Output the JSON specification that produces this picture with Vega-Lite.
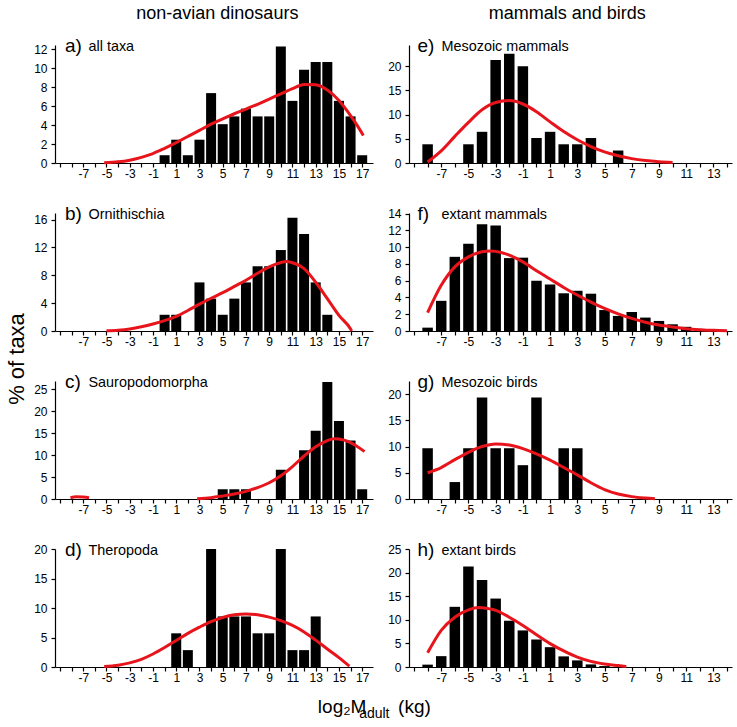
{
  "$schema": "https://vega.github.io/schema/vega-lite/v6.json",
  "padding": {"left": 5, "top": 5, "right": 4, "bottom": 5},
  "background": "white",
  "config": {
    "view": {"stroke": null},
    "font": "Liberation Sans",
    "axis": {"grid": false, "domainColor": "black", "domainWidth": 1.2, "tickColor": "black", "tickWidth": 1.2, "tickSize": 4, "labelColor": "black", "labelFontSize": 12, "labelFont": "Liberation Sans"},
    "axisX": {"labelPadding": 1, "labelAngle": 0},
    "axisY": {"labelPadding": 4, "titleAngle": 0, "titleAlign": "left", "titleBaseline": "middle", "titleX": 33, "titleY": 1, "titleFontSize": 14.4, "titleFontWeight": "normal", "titleColor": "black", "titleFont": "Liberation Sans"}
  },
  "datasets": {
    "bars": [
      {"p": "a", "x": 0, "y": 0.82}, {"p": "a", "x": 1, "y": 2.46}, {"p": "a", "x": 2, "y": 0.82}, {"p": "a", "x": 3, "y": 2.46}, {"p": "a", "x": 4, "y": 7.38}, {"p": "a", "x": 5, "y": 4.1}, {"p": "a", "x": 6, "y": 4.92}, {"p": "a", "x": 7, "y": 5.74}, {"p": "a", "x": 8, "y": 4.92}, {"p": "a", "x": 9, "y": 4.92}, {"p": "a", "x": 10, "y": 12.3}, {"p": "a", "x": 11, "y": 6.56}, {"p": "a", "x": 12, "y": 9.84}, {"p": "a", "x": 13, "y": 10.66}, {"p": "a", "x": 14, "y": 10.66}, {"p": "a", "x": 15, "y": 6.56}, {"p": "a", "x": 16, "y": 4.92}, {"p": "a", "x": 17, "y": 0.82},
      {"p": "b", "x": 0, "y": 2.33}, {"p": "b", "x": 1, "y": 2.33}, {"p": "b", "x": 3, "y": 6.98}, {"p": "b", "x": 4, "y": 4.65}, {"p": "b", "x": 5, "y": 2.33}, {"p": "b", "x": 6, "y": 4.65}, {"p": "b", "x": 7, "y": 6.98}, {"p": "b", "x": 8, "y": 9.3}, {"p": "b", "x": 9, "y": 9.3}, {"p": "b", "x": 10, "y": 11.63}, {"p": "b", "x": 11, "y": 16.28}, {"p": "b", "x": 12, "y": 13.95}, {"p": "b", "x": 13, "y": 6.98}, {"p": "b", "x": 14, "y": 2.33},
      {"p": "c", "x": 5, "y": 2.22}, {"p": "c", "x": 6, "y": 2.22}, {"p": "c", "x": 7, "y": 2.22}, {"p": "c", "x": 10, "y": 6.67}, {"p": "c", "x": 12, "y": 11.11}, {"p": "c", "x": 13, "y": 15.56}, {"p": "c", "x": 14, "y": 26.67}, {"p": "c", "x": 15, "y": 17.78}, {"p": "c", "x": 16, "y": 13.33}, {"p": "c", "x": 17, "y": 2.22},
      {"p": "d", "x": 1, "y": 5.71}, {"p": "d", "x": 2, "y": 2.86}, {"p": "d", "x": 4, "y": 20}, {"p": "d", "x": 5, "y": 8.57}, {"p": "d", "x": 6, "y": 8.57}, {"p": "d", "x": 7, "y": 8.57}, {"p": "d", "x": 8, "y": 5.71}, {"p": "d", "x": 9, "y": 5.71}, {"p": "d", "x": 10, "y": 20}, {"p": "d", "x": 11, "y": 2.86}, {"p": "d", "x": 12, "y": 2.86}, {"p": "d", "x": 13, "y": 8.57},
      {"p": "e", "x": -8, "y": 3.87}, {"p": "e", "x": -5, "y": 3.87}, {"p": "e", "x": -4, "y": 6.45}, {"p": "e", "x": -3, "y": 21.29}, {"p": "e", "x": -2, "y": 22.58}, {"p": "e", "x": -1, "y": 20.0}, {"p": "e", "x": 0, "y": 5.16}, {"p": "e", "x": 1, "y": 6.45}, {"p": "e", "x": 2, "y": 3.87}, {"p": "e", "x": 3, "y": 3.87}, {"p": "e", "x": 4, "y": 5.16}, {"p": "e", "x": 6, "y": 2.58},
      {"p": "f", "x": -8, "y": 0.4}, {"p": "f", "x": -7, "y": 3.6}, {"p": "f", "x": -6, "y": 8.85}, {"p": "f", "x": -5, "y": 10.4}, {"p": "f", "x": -4, "y": 12.75}, {"p": "f", "x": -3, "y": 12.6}, {"p": "f", "x": -2, "y": 8.7}, {"p": "f", "x": -1, "y": 8.75}, {"p": "f", "x": 0, "y": 6.0}, {"p": "f", "x": 1, "y": 5.55}, {"p": "f", "x": 2, "y": 4.5}, {"p": "f", "x": 3, "y": 4.8}, {"p": "f", "x": 4, "y": 4.45}, {"p": "f", "x": 5, "y": 2.5}, {"p": "f", "x": 6, "y": 1.8}, {"p": "f", "x": 7, "y": 2.27}, {"p": "f", "x": 8, "y": 1.6}, {"p": "f", "x": 9, "y": 1.2}, {"p": "f", "x": 10, "y": 0.8}, {"p": "f", "x": 11, "y": 0.5}, {"p": "f", "x": 12, "y": 0.25}, {"p": "f", "x": 13, "y": 0.1},
      {"p": "g", "x": -8, "y": 9.68}, {"p": "g", "x": -6, "y": 3.23}, {"p": "g", "x": -5, "y": 9.68}, {"p": "g", "x": -4, "y": 19.35}, {"p": "g", "x": -3, "y": 9.68}, {"p": "g", "x": -2, "y": 9.68}, {"p": "g", "x": -1, "y": 6.45}, {"p": "g", "x": 0, "y": 19.35}, {"p": "g", "x": 2, "y": 9.68}, {"p": "g", "x": 3, "y": 9.68},
      {"p": "h", "x": -8, "y": 0.5}, {"p": "h", "x": -7, "y": 2.3}, {"p": "h", "x": -6, "y": 12.75}, {"p": "h", "x": -5, "y": 21.3}, {"p": "h", "x": -4, "y": 18.45}, {"p": "h", "x": -3, "y": 14.5}, {"p": "h", "x": -2, "y": 9.8}, {"p": "h", "x": -1, "y": 7.75}, {"p": "h", "x": 0, "y": 5.85}, {"p": "h", "x": 1, "y": 4.2}, {"p": "h", "x": 2, "y": 2.25}, {"p": "h", "x": 3, "y": 1.4}, {"p": "h", "x": 4, "y": 0.55}, {"p": "h", "x": 5, "y": 0.2}
    ],
    "curves": [
      {"p": "a", "s": 1, "x": -5.2, "y": 0.02}, {"p": "a", "s": 1, "x": -4, "y": 0.12}, {"p": "a", "s": 1, "x": -3, "y": 0.3}, {"p": "a", "s": 1, "x": -2, "y": 0.6}, {"p": "a", "s": 1, "x": -1, "y": 1.0}, {"p": "a", "s": 1, "x": 0, "y": 1.55}, {"p": "a", "s": 1, "x": 1, "y": 2.15}, {"p": "a", "s": 1, "x": 2, "y": 2.8}, {"p": "a", "s": 1, "x": 3, "y": 3.45}, {"p": "a", "s": 1, "x": 4, "y": 4.1}, {"p": "a", "s": 1, "x": 5, "y": 4.65}, {"p": "a", "s": 1, "x": 6, "y": 5.2}, {"p": "a", "s": 1, "x": 7, "y": 5.7}, {"p": "a", "s": 1, "x": 8, "y": 6.2}, {"p": "a", "s": 1, "x": 9, "y": 6.75}, {"p": "a", "s": 1, "x": 10, "y": 7.3}, {"p": "a", "s": 1, "x": 11, "y": 7.85}, {"p": "a", "s": 1, "x": 12, "y": 8.3}, {"p": "a", "s": 1, "x": 13, "y": 8.25}, {"p": "a", "s": 1, "x": 14, "y": 7.7}, {"p": "a", "s": 1, "x": 15, "y": 6.6}, {"p": "a", "s": 1, "x": 16, "y": 5.0}, {"p": "a", "s": 1, "x": 16.5, "y": 4.1}, {"p": "a", "s": 1, "x": 17.1, "y": 2.9},
      {"p": "b", "s": 1, "x": -5, "y": 0.02}, {"p": "b", "s": 1, "x": -4, "y": 0.12}, {"p": "b", "s": 1, "x": -3, "y": 0.3}, {"p": "b", "s": 1, "x": -2, "y": 0.6}, {"p": "b", "s": 1, "x": -1, "y": 1.0}, {"p": "b", "s": 1, "x": 0, "y": 1.5}, {"p": "b", "s": 1, "x": 1, "y": 2.1}, {"p": "b", "s": 1, "x": 2, "y": 2.95}, {"p": "b", "s": 1, "x": 3, "y": 3.85}, {"p": "b", "s": 1, "x": 4, "y": 4.7}, {"p": "b", "s": 1, "x": 5, "y": 5.5}, {"p": "b", "s": 1, "x": 6, "y": 6.4}, {"p": "b", "s": 1, "x": 7, "y": 7.3}, {"p": "b", "s": 1, "x": 8, "y": 8.3}, {"p": "b", "s": 1, "x": 9, "y": 9.2}, {"p": "b", "s": 1, "x": 10, "y": 9.85}, {"p": "b", "s": 1, "x": 10.5, "y": 10.0}, {"p": "b", "s": 1, "x": 11, "y": 9.8}, {"p": "b", "s": 1, "x": 12, "y": 8.95}, {"p": "b", "s": 1, "x": 13, "y": 7.0}, {"p": "b", "s": 1, "x": 14, "y": 4.65}, {"p": "b", "s": 1, "x": 15, "y": 2.25}, {"p": "b", "s": 1, "x": 16, "y": 0.3}, {"p": "b", "s": 1, "x": 16.1, "y": 0},
      {"p": "c", "s": 1, "x": -8.1, "y": 0.3}, {"p": "c", "s": 1, "x": -7.6, "y": 0.5}, {"p": "c", "s": 1, "x": -7, "y": 0.45}, {"p": "c", "s": 1, "x": -6.5, "y": 0.3},
      {"p": "c", "s": 2, "x": 2.8, "y": 0.05}, {"p": "c", "s": 2, "x": 4, "y": 0.3}, {"p": "c", "s": 2, "x": 5, "y": 0.7}, {"p": "c", "s": 2, "x": 6, "y": 1.15}, {"p": "c", "s": 2, "x": 7, "y": 1.75}, {"p": "c", "s": 2, "x": 8, "y": 2.6}, {"p": "c", "s": 2, "x": 9, "y": 3.7}, {"p": "c", "s": 2, "x": 10, "y": 5.3}, {"p": "c", "s": 2, "x": 11, "y": 7.4}, {"p": "c", "s": 2, "x": 12, "y": 9.8}, {"p": "c", "s": 2, "x": 13, "y": 11.9}, {"p": "c", "s": 2, "x": 14, "y": 13.3}, {"p": "c", "s": 2, "x": 14.6, "y": 13.75}, {"p": "c", "s": 2, "x": 15, "y": 13.7}, {"p": "c", "s": 2, "x": 16, "y": 12.85}, {"p": "c", "s": 2, "x": 17, "y": 11.2}, {"p": "c", "s": 2, "x": 17.2, "y": 10.8},
      {"p": "d", "s": 1, "x": -5.2, "y": 0.08}, {"p": "d", "s": 1, "x": -4, "y": 0.3}, {"p": "d", "s": 1, "x": -3, "y": 0.7}, {"p": "d", "s": 1, "x": -2, "y": 1.3}, {"p": "d", "s": 1, "x": -1, "y": 2.2}, {"p": "d", "s": 1, "x": 0, "y": 3.3}, {"p": "d", "s": 1, "x": 1, "y": 4.5}, {"p": "d", "s": 1, "x": 2, "y": 5.7}, {"p": "d", "s": 1, "x": 3, "y": 6.75}, {"p": "d", "s": 1, "x": 4, "y": 7.7}, {"p": "d", "s": 1, "x": 5, "y": 8.4}, {"p": "d", "s": 1, "x": 6, "y": 8.85}, {"p": "d", "s": 1, "x": 7, "y": 9.0}, {"p": "d", "s": 1, "x": 8, "y": 8.85}, {"p": "d", "s": 1, "x": 9, "y": 8.45}, {"p": "d", "s": 1, "x": 10, "y": 7.85}, {"p": "d", "s": 1, "x": 11, "y": 7.05}, {"p": "d", "s": 1, "x": 12, "y": 5.95}, {"p": "d", "s": 1, "x": 13, "y": 4.55}, {"p": "d", "s": 1, "x": 14, "y": 3.05}, {"p": "d", "s": 1, "x": 15, "y": 1.6}, {"p": "d", "s": 1, "x": 15.9, "y": 0.15},
      {"p": "e", "s": 1, "x": -8, "y": 0.2}, {"p": "e", "s": 1, "x": -7, "y": 2.5}, {"p": "e", "s": 1, "x": -6, "y": 5.5}, {"p": "e", "s": 1, "x": -5, "y": 8.4}, {"p": "e", "s": 1, "x": -4, "y": 11.0}, {"p": "e", "s": 1, "x": -3, "y": 12.5}, {"p": "e", "s": 1, "x": -2, "y": 12.9}, {"p": "e", "s": 1, "x": -1, "y": 12.2}, {"p": "e", "s": 1, "x": 0, "y": 10.6}, {"p": "e", "s": 1, "x": 1, "y": 8.5}, {"p": "e", "s": 1, "x": 2, "y": 6.5}, {"p": "e", "s": 1, "x": 3, "y": 4.8}, {"p": "e", "s": 1, "x": 4, "y": 3.4}, {"p": "e", "s": 1, "x": 5, "y": 2.3}, {"p": "e", "s": 1, "x": 6, "y": 1.5}, {"p": "e", "s": 1, "x": 7, "y": 0.9}, {"p": "e", "s": 1, "x": 8, "y": 0.5}, {"p": "e", "s": 1, "x": 9, "y": 0.25}, {"p": "e", "s": 1, "x": 10, "y": 0.1},
      {"p": "f", "s": 1, "x": -8, "y": 2.2}, {"p": "f", "s": 1, "x": -7, "y": 5.45}, {"p": "f", "s": 1, "x": -6, "y": 7.65}, {"p": "f", "s": 1, "x": -5, "y": 8.85}, {"p": "f", "s": 1, "x": -4, "y": 9.45}, {"p": "f", "s": 1, "x": -3.4, "y": 9.55}, {"p": "f", "s": 1, "x": -3, "y": 9.5}, {"p": "f", "s": 1, "x": -2, "y": 9.05}, {"p": "f", "s": 1, "x": -1, "y": 8.25}, {"p": "f", "s": 1, "x": 0, "y": 7.2}, {"p": "f", "s": 1, "x": 1, "y": 6.2}, {"p": "f", "s": 1, "x": 2, "y": 5.2}, {"p": "f", "s": 1, "x": 3, "y": 4.3}, {"p": "f", "s": 1, "x": 4, "y": 3.45}, {"p": "f", "s": 1, "x": 5, "y": 2.7}, {"p": "f", "s": 1, "x": 6, "y": 2.05}, {"p": "f", "s": 1, "x": 7, "y": 1.5}, {"p": "f", "s": 1, "x": 8, "y": 1.05}, {"p": "f", "s": 1, "x": 9, "y": 0.72}, {"p": "f", "s": 1, "x": 10, "y": 0.48}, {"p": "f", "s": 1, "x": 11, "y": 0.28}, {"p": "f", "s": 1, "x": 12, "y": 0.16}, {"p": "f", "s": 1, "x": 13, "y": 0.08}, {"p": "f", "s": 1, "x": 14, "y": 0.04},
      {"p": "g", "s": 1, "x": -8, "y": 5.0}, {"p": "g", "s": 1, "x": -7, "y": 6.0}, {"p": "g", "s": 1, "x": -6, "y": 7.5}, {"p": "g", "s": 1, "x": -5, "y": 8.9}, {"p": "g", "s": 1, "x": -4, "y": 10.0}, {"p": "g", "s": 1, "x": -3, "y": 10.5}, {"p": "g", "s": 1, "x": -2, "y": 10.3}, {"p": "g", "s": 1, "x": -1, "y": 9.6}, {"p": "g", "s": 1, "x": 0, "y": 8.6}, {"p": "g", "s": 1, "x": 1, "y": 7.4}, {"p": "g", "s": 1, "x": 2, "y": 6.0}, {"p": "g", "s": 1, "x": 3, "y": 4.6}, {"p": "g", "s": 1, "x": 4, "y": 3.1}, {"p": "g", "s": 1, "x": 5, "y": 1.8}, {"p": "g", "s": 1, "x": 6, "y": 0.95}, {"p": "g", "s": 1, "x": 7, "y": 0.45}, {"p": "g", "s": 1, "x": 8, "y": 0.18}, {"p": "g", "s": 1, "x": 8.7, "y": 0.05},
      {"p": "h", "s": 1, "x": -8, "y": 3.0}, {"p": "h", "s": 1, "x": -7, "y": 7.75}, {"p": "h", "s": 1, "x": -6, "y": 10.55}, {"p": "h", "s": 1, "x": -5, "y": 12.1}, {"p": "h", "s": 1, "x": -4.2, "y": 12.6}, {"p": "h", "s": 1, "x": -4, "y": 12.55}, {"p": "h", "s": 1, "x": -3, "y": 12.0}, {"p": "h", "s": 1, "x": -2, "y": 10.55}, {"p": "h", "s": 1, "x": -1, "y": 8.8}, {"p": "h", "s": 1, "x": 0, "y": 6.85}, {"p": "h", "s": 1, "x": 1, "y": 4.95}, {"p": "h", "s": 1, "x": 2, "y": 3.4}, {"p": "h", "s": 1, "x": 3, "y": 2.1}, {"p": "h", "s": 1, "x": 4, "y": 1.2}, {"p": "h", "s": 1, "x": 5, "y": 0.65}, {"p": "h", "s": 1, "x": 6, "y": 0.3}, {"p": "h", "s": 1, "x": 6.6, "y": 0.1}
    ]
  },
  "title": {"text": "log₂M\u00a0\u00a0\u00a0\u00a0\u00a0\u00a0(kg)\u00a0\u00a0\u00a0", "subtitle": "adult", "orient": "bottom", "anchor": "middle", "dx": 5, "fontSize": 19, "fontWeight": "normal", "font": "Liberation Sans", "color": "black", "subtitleFontSize": 14, "subtitleFont": "Liberation Sans", "subtitleColor": "black", "subtitlePadding": -10, "offset": 15},
  "vconcat": [
    {
      "title": {"text": "% of taxa", "orient": "left", "anchor": "middle", "fontSize": 22, "fontWeight": "normal", "font": "Liberation Sans", "color": "black", "offset": 5, "dx": -15},
      "spacing": 14,
      "hconcat": [
        {
          "title": {"text": "non-avian dinosaurs", "fontSize": 18, "fontWeight": "normal", "font": "Liberation Sans", "color": "black", "anchor": "middle", "offset": 14, "dx": 14},
          "spacing": 50,
          "bounds": "flush",
          "vconcat": [
            {
              "width": 318, "height": 118,
              "title": {"text": "a)", "anchor": "start", "frame": "group", "dx": 10, "offset": -18, "fontSize": 19, "fontWeight": "normal", "font": "Liberation Sans", "color": "black"},
              "encoding": {
                "x": {"field": "x", "type": "quantitative", "scale": {"domain": [-9, 17.5], "nice": false, "zero": false}, "axis": {"title": null, "values": [-9,-8,-7,-6,-5,-4,-3,-2,-1,0,1,2,3,4,5,6,7,8,9,10,11,12,13,14,15,16,17], "labelExpr": "datum.value % 2 !== 0 && datum.value >= -7 ? '' + datum.value : ''"}},
                "y": {"field": "y", "type": "quantitative", "scale": {"domain": [0, 12.46], "nice": false}, "axis": {"title": "all taxa", "values": [0, 2, 4, 6, 8, 10, 12]}}
              },
              "layer": [
                {"data": {"name": "bars"}, "transform": [{"filter": "datum.p === 'a'"}], "mark": {"type": "bar", "orient": "vertical", "size": 10, "color": "black"}},
                {"data": {"name": "curves"}, "transform": [{"filter": "datum.p === 'a'"}], "mark": {"type": "line", "color": "#e8141b", "strokeWidth": 3, "interpolate": "monotone"}, "encoding": {"detail": {"field": "s", "type": "nominal"}}}
              ]
            },
            {
              "width": 318, "height": 118,
              "title": {"text": "b)", "anchor": "start", "frame": "group", "dx": 10, "offset": -18, "fontSize": 19, "fontWeight": "normal", "font": "Liberation Sans", "color": "black"},
              "encoding": {
                "x": {"field": "x", "type": "quantitative", "scale": {"domain": [-9, 17.5], "nice": false, "zero": false}, "axis": {"title": null, "values": [-9,-8,-7,-6,-5,-4,-3,-2,-1,0,1,2,3,4,5,6,7,8,9,10,11,12,13,14,15,16,17], "labelExpr": "datum.value % 2 !== 0 && datum.value >= -7 ? '' + datum.value : ''"}},
                "y": {"field": "y", "type": "quantitative", "scale": {"domain": [0, 16.95], "nice": false}, "axis": {"title": "Ornithischia", "values": [0, 4, 8, 12, 16]}}
              },
              "layer": [
                {"data": {"name": "bars"}, "transform": [{"filter": "datum.p === 'b'"}], "mark": {"type": "bar", "orient": "vertical", "size": 10, "color": "black"}},
                {"data": {"name": "curves"}, "transform": [{"filter": "datum.p === 'b'"}], "mark": {"type": "line", "color": "#e8141b", "strokeWidth": 3, "interpolate": "monotone"}, "encoding": {"detail": {"field": "s", "type": "nominal"}}}
              ]
            },
            {
              "width": 318, "height": 118,
              "title": {"text": "c)", "anchor": "start", "frame": "group", "dx": 10, "offset": -18, "fontSize": 19, "fontWeight": "normal", "font": "Liberation Sans", "color": "black"},
              "encoding": {
                "x": {"field": "x", "type": "quantitative", "scale": {"domain": [-9, 17.5], "nice": false, "zero": false}, "axis": {"title": null, "values": [-9,-8,-7,-6,-5,-4,-3,-2,-1,0,1,2,3,4,5,6,7,8,9,10,11,12,13,14,15,16,17], "labelExpr": "datum.value % 2 !== 0 && datum.value >= -7 ? '' + datum.value : ''"}},
                "y": {"field": "y", "type": "quantitative", "scale": {"domain": [0, 26.9], "nice": false}, "axis": {"title": "Sauropodomorpha", "values": [0, 5, 10, 15, 20, 25]}}
              },
              "layer": [
                {"data": {"name": "bars"}, "transform": [{"filter": "datum.p === 'c'"}], "mark": {"type": "bar", "orient": "vertical", "size": 10, "color": "black"}},
                {"data": {"name": "curves"}, "transform": [{"filter": "datum.p === 'c'"}], "mark": {"type": "line", "color": "#e8141b", "strokeWidth": 3, "interpolate": "monotone"}, "encoding": {"detail": {"field": "s", "type": "nominal"}}}
              ]
            },
            {
              "width": 318, "height": 118,
              "title": {"text": "d)", "anchor": "start", "frame": "group", "dx": 10, "offset": -18, "fontSize": 19, "fontWeight": "normal", "font": "Liberation Sans", "color": "black"},
              "encoding": {
                "x": {"field": "x", "type": "quantitative", "scale": {"domain": [-9, 17.5], "nice": false, "zero": false}, "axis": {"title": null, "values": [-9,-8,-7,-6,-5,-4,-3,-2,-1,0,1,2,3,4,5,6,7,8,9,10,11,12,13,14,15,16,17], "labelExpr": "datum.value % 2 !== 0 && datum.value >= -7 ? '' + datum.value : ''"}},
                "y": {"field": "y", "type": "quantitative", "scale": {"domain": [0, 20], "nice": false}, "axis": {"title": "Theropoda", "values": [0, 5, 10, 15, 20]}}
              },
              "layer": [
                {"data": {"name": "bars"}, "transform": [{"filter": "datum.p === 'd'"}], "mark": {"type": "bar", "orient": "vertical", "size": 10, "color": "black"}},
                {"data": {"name": "curves"}, "transform": [{"filter": "datum.p === 'd'"}], "mark": {"type": "line", "color": "#e8141b", "strokeWidth": 3, "interpolate": "monotone"}, "encoding": {"detail": {"field": "s", "type": "nominal"}}}
              ]
            }
          ]
        },
        {
          "title": {"text": "mammals and birds", "fontSize": 18, "fontWeight": "normal", "font": "Liberation Sans", "color": "black", "anchor": "middle", "offset": 14, "dx": 7},
          "spacing": 50,
          "bounds": "flush",
          "vconcat": [
            {
              "width": 323, "height": 118,
              "title": {"text": "e)", "anchor": "start", "frame": "group", "dx": 8.5, "offset": -18, "fontSize": 19, "fontWeight": "normal", "font": "Liberation Sans", "color": "black"},
              "encoding": {
                "x": {"field": "x", "type": "quantitative", "scale": {"domain": [-9, 14], "nice": false, "zero": false}, "axis": {"title": null, "values": [-9,-8,-7,-6,-5,-4,-3,-2,-1,0,1,2,3,4,5,6,7,8,9,10,11,12,13,14], "labelExpr": "datum.value % 2 !== 0 && datum.value >= -7 ? '' + datum.value : ''"}},
                "y": {"field": "y", "type": "quantitative", "scale": {"domain": [0, 24.4], "nice": false}, "axis": {"title": "Mesozoic mammals", "titleX": 32, "values": [0, 5, 10, 15, 20]}}
              },
              "layer": [
                {"data": {"name": "bars"}, "transform": [{"filter": "datum.p === 'e'"}], "mark": {"type": "bar", "orient": "vertical", "size": 10.5, "color": "black"}},
                {"data": {"name": "curves"}, "transform": [{"filter": "datum.p === 'e'"}], "mark": {"type": "line", "color": "#e8141b", "strokeWidth": 3, "interpolate": "monotone"}, "encoding": {"detail": {"field": "s", "type": "nominal"}}}
              ]
            },
            {
              "width": 323, "height": 118,
              "title": {"text": "f)", "anchor": "start", "frame": "group", "dx": 8.5, "offset": -18, "fontSize": 19, "fontWeight": "normal", "font": "Liberation Sans", "color": "black"},
              "encoding": {
                "x": {"field": "x", "type": "quantitative", "scale": {"domain": [-9, 14], "nice": false, "zero": false}, "axis": {"title": null, "values": [-9,-8,-7,-6,-5,-4,-3,-2,-1,0,1,2,3,4,5,6,7,8,9,10,11,12,13,14], "labelExpr": "datum.value % 2 !== 0 && datum.value >= -7 ? '' + datum.value : ''"}},
                "y": {"field": "y", "type": "quantitative", "scale": {"domain": [0, 14.08], "nice": false}, "axis": {"title": "extant mammals", "titleX": 32, "values": [0, 2, 4, 6, 8, 10, 12, 14]}}
              },
              "layer": [
                {"data": {"name": "bars"}, "transform": [{"filter": "datum.p === 'f'"}], "mark": {"type": "bar", "orient": "vertical", "size": 10.5, "color": "black"}},
                {"data": {"name": "curves"}, "transform": [{"filter": "datum.p === 'f'"}], "mark": {"type": "line", "color": "#e8141b", "strokeWidth": 3, "interpolate": "monotone"}, "encoding": {"detail": {"field": "s", "type": "nominal"}}}
              ]
            },
            {
              "width": 323, "height": 118,
              "title": {"text": "g)", "anchor": "start", "frame": "group", "dx": 8.5, "offset": -18, "fontSize": 19, "fontWeight": "normal", "font": "Liberation Sans", "color": "black"},
              "encoding": {
                "x": {"field": "x", "type": "quantitative", "scale": {"domain": [-9, 14], "nice": false, "zero": false}, "axis": {"title": null, "values": [-9,-8,-7,-6,-5,-4,-3,-2,-1,0,1,2,3,4,5,6,7,8,9,10,11,12,13,14], "labelExpr": "datum.value % 2 !== 0 && datum.value >= -7 ? '' + datum.value : ''"}},
                "y": {"field": "y", "type": "quantitative", "scale": {"domain": [0, 22.5], "nice": false}, "axis": {"title": "Mesozoic birds", "titleX": 32, "values": [0, 5, 10, 15, 20]}}
              },
              "layer": [
                {"data": {"name": "bars"}, "transform": [{"filter": "datum.p === 'g'"}], "mark": {"type": "bar", "orient": "vertical", "size": 10.5, "color": "black"}},
                {"data": {"name": "curves"}, "transform": [{"filter": "datum.p === 'g'"}], "mark": {"type": "line", "color": "#e8141b", "strokeWidth": 3, "interpolate": "monotone"}, "encoding": {"detail": {"field": "s", "type": "nominal"}}}
              ]
            },
            {
              "width": 323, "height": 118,
              "title": {"text": "h)", "anchor": "start", "frame": "group", "dx": 8.5, "offset": -18, "fontSize": 19, "fontWeight": "normal", "font": "Liberation Sans", "color": "black"},
              "encoding": {
                "x": {"field": "x", "type": "quantitative", "scale": {"domain": [-9, 14], "nice": false, "zero": false}, "axis": {"title": null, "values": [-9,-8,-7,-6,-5,-4,-3,-2,-1,0,1,2,3,4,5,6,7,8,9,10,11,12,13,14], "labelExpr": "datum.value % 2 !== 0 && datum.value >= -7 ? '' + datum.value : ''"}},
                "y": {"field": "y", "type": "quantitative", "scale": {"domain": [0, 25], "nice": false}, "axis": {"title": "extant birds", "titleX": 32, "values": [0, 5, 10, 15, 20, 25]}}
              },
              "layer": [
                {"data": {"name": "bars"}, "transform": [{"filter": "datum.p === 'h'"}], "mark": {"type": "bar", "orient": "vertical", "size": 10.5, "color": "black"}},
                {"data": {"name": "curves"}, "transform": [{"filter": "datum.p === 'h'"}], "mark": {"type": "line", "color": "#e8141b", "strokeWidth": 3, "interpolate": "monotone"}, "encoding": {"detail": {"field": "s", "type": "nominal"}}}
              ]
            }
          ]
        }
      ]
    }
  ]
}
